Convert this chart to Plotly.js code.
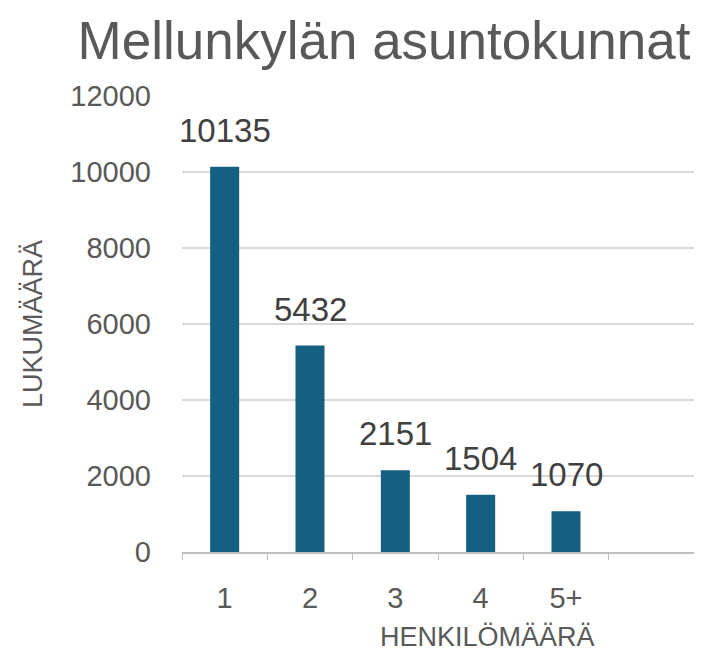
<!DOCTYPE html>
<html>
<head>
<meta charset="utf-8">
<script src="https://cdn.plot.ly/plotly-3.0.1.min.js"></script>
<style>html,body{margin:0;padding:0;background:#fff;}#chart{width:702px;height:659px;}</style>
</head>
<body>
<div id="chart"></div>
<script>
const categories = ["1", "2", "3", "4", "5+"];
const values = [10135, 5432, 2151, 1504, 1070];
const yTicks = [0, 2000, 4000, 6000, 8000, 10000, 12000];
const chartTitle = "Mellunkylän asuntokunnat";
const xTitle = "HENKILÖMÄÄRÄ";
const yTitle = "LUKUMÄÄRÄ";

const font = "Liberation Sans, Arial, sans-serif";
const grey = "#595959";

const trace = {
  type: "bar",
  x: categories,
  y: values,
  marker: {color: "#156082"},
  width: 0.34,
  hoverinfo: "x+y"
};

// category axis positions are indices; use index so "1" is not read as position 1
const labelAnnotations = categories.map((c, i) => ({
  x: i, y: values[i], xref: "x", yref: "y",
  text: String(values[i]), showarrow: false,
  yanchor: "bottom", yshift: 16,
  font: {family: font, size: 33, color: "#404040"}
}));

const layout = {
  width: 702, height: 659,
  margin: {l: 182, r: 8, t: 96, b: 107},
  paper_bgcolor: "#fff", plot_bgcolor: "#fff",
  showlegend: false,
  title: {
    text: chartTitle,
    font: {family: font, size: 53, color: grey},
    xref: "container", yref: "container",
    x: 0.547, y: 1 - 40/659, xanchor: "center", yanchor: "middle"
  },
  xaxis: {
    type: "category",
    categoryorder: "array", categoryarray: categories,
    range: [-0.5, 5.5],
    showline: true, linecolor: "#bfbfbf", linewidth: 1.5,
    ticks: "outside", tickson: "boundaries", ticklen: 6, tickcolor: "#bfbfbf",
    ticklabelstandoff: 20,
    tickfont: {family: font, size: 29, color: grey},
    showgrid: false, zeroline: false, fixedrange: true
  },
  yaxis: {
    range: [0, 12000],
    tickvals: yTicks,
    ticktext: yTicks.map(String),
    showgrid: true, gridcolor: "#d9d9d9", gridwidth: 1.5,
    zeroline: false, showline: false, ticks: "",
    ticklabelstandoff: 30,
    tickfont: {family: font, size: 29, color: grey},
    fixedrange: true
  },
  annotations: labelAnnotations.concat([
    {
      text: xTitle, xref: "paper", yref: "paper",
      x: (487 - 182) / 512, y: -(637 - 552) / 456,
      xanchor: "center", yanchor: "middle", showarrow: false,
      font: {family: font, size: 27, color: grey}
    },
    {
      text: yTitle, xref: "paper", yref: "paper",
      x: (33 - 182) / 512, y: 0.5, textangle: -90,
      xanchor: "center", yanchor: "middle", showarrow: false,
      font: {family: font, size: 27, color: grey}
    }
  ])
};

Plotly.newPlot("chart", [trace], layout, {displayModeBar: false, staticPlot: true});
</script>
</body>
</html>
